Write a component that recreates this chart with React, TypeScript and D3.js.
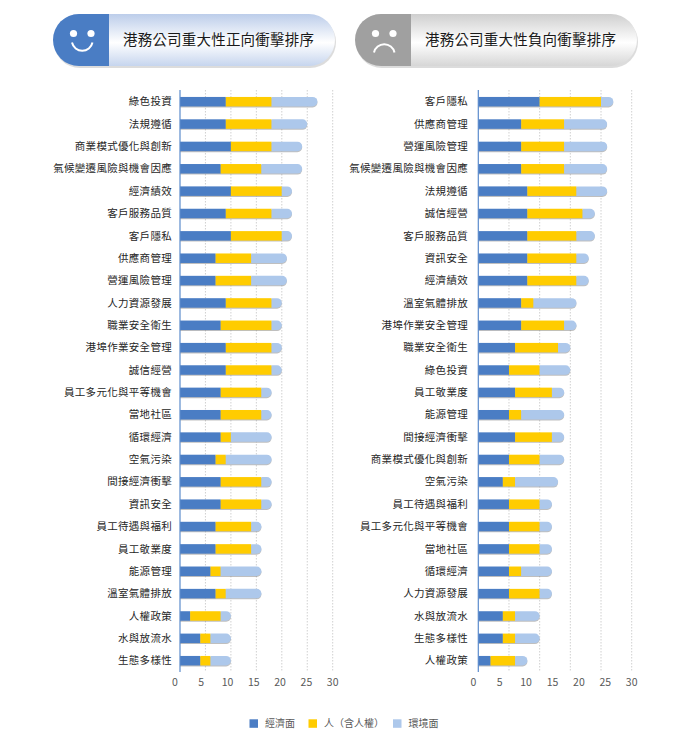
import React from 'react';
import * as d3 from 'd3';

// 正向衝擊（左）
const posCategories = [
  '綠色投資', '法規遵循', '商業模式優化與創新', '氣候變遷風險與機會因應', '經濟績效',
  '客戶服務品質', '客戶隱私', '供應商管理', '營運風險管理', '人力資源發展',
  '職業安全衛生', '港埠作業安全管理', '誠信經營', '員工多元化與平等機會', '當地社區',
  '循環經濟', '空氣污染', '間接經濟衝擊', '資訊安全', '員工待遇與福利',
  '員工敬業度', '能源管理', '溫室氣體排放', '人權政策', '水與放流水', '生態多樣性',
];
const posEcon = [9, 9, 10, 8, 10, 9, 10, 7, 7, 9, 8, 9, 9, 8, 8, 8, 7, 8, 8, 7, 7, 6, 7, 2, 4, 4];
const posPeople = [9, 9, 8, 8, 10, 9, 10, 7, 7, 9, 10, 9, 9, 8, 8, 2, 2, 8, 8, 7, 7, 2, 2, 6, 2, 2];
const posEnv = [9, 7, 6, 8, 2, 4, 2, 7, 7, 2, 2, 2, 2, 2, 2, 8, 9, 2, 2, 2, 2, 8, 7, 2, 4, 4];

// 負向衝擊（右）
const negCategories = [
  '客戶隱私', '供應商管理', '營運風險管理', '氣候變遷風險與機會因應', '法規遵循',
  '誠信經營', '客戶服務品質', '資訊安全', '經濟績效', '溫室氣體排放',
  '港埠作業安全管理', '職業安全衛生', '綠色投資', '員工敬業度', '能源管理',
  '間接經濟衝擊', '商業模式優化與創新', '空氣污染', '員工待遇與福利', '員工多元化與平等機會',
  '當地社區', '循環經濟', '人力資源發展', '水與放流水', '生態多樣性', '人權政策',
];
const negEcon = [10, 7, 7, 7, 8, 8, 8, 8, 8, 7, 7, 6, 5, 6, 5, 6, 5, 4, 5, 5, 5, 5, 5, 4, 4, 2];
const negPeople = [10, 7, 7, 7, 8, 9, 8, 8, 8, 2, 7, 7, 5, 6, 2, 6, 5, 2, 5, 5, 5, 2, 5, 2, 2, 4];
const negEnv = [2, 7, 7, 7, 5, 2, 3, 2, 2, 7, 2, 2, 5, 2, 7, 2, 4, 7, 2, 2, 2, 5, 2, 4, 4, 2];

const tickValues = [0, 5, 10, 15, 20, 25, 30];
const seriesNames = ['經濟面', '人（含人權）', '環境面'];
const seriesColors = ['#4a7dc4', '#ffcc00', '#adc8eb'];

const FONT = '"Noto Sans CJK TC", "Noto Sans", sans-serif';

interface PanelProps {
  categories: string[];
  econ: number[];
  people: number[];
  env: number[];
  axisX: number;
  maxDomain: number;
  endX: number;
  labelX: number;
}

const Panel: React.FC<PanelProps> = ({ categories, econ, people, env, axisX, maxDomain, endX, labelX }) => {
  const x = d3.scaleLinear().domain([0, maxDomain]).range([axisX, endX]);
  // the tick labels in the source sit on their own 0–30 ruler
  const xLabel = d3.scaleLinear().domain([0, 30]).range([axisX - 5, endX]);
  const y = d3.scalePoint<string>().domain(categories).range([101.7, 660.7]);
  const barH = 9.5;
  const gridTicks = d3.range(5, maxDomain + 1, 5);

  const roundedEnd = (x0: number, x1: number, yTop: number) => {
    const r = barH / 2;
    return `M${x0},${yTop}H${x1 - r}A${r},${r} 0 0 1 ${x1 - r},${yTop + barH}H${x0}Z`;
  };

  return (
    <g>
      {gridTicks.map((t) => (
        <line key={t} x1={x(t)} x2={x(t)} y1={90} y2={671}
          stroke="#c4c4c4" strokeWidth={0.8} strokeDasharray="1.5,1.5" />
      ))}
      {categories.map((c, i) => {
        const yc = y(c) ?? 0;
        const yTop = yc - barH / 2;
        const s0 = econ[i];
        const s1 = s0 + people[i];
        const s2 = s1 + env[i];
        return (
          <g key={c}>
            <path d={roundedEnd(x(0), x(s2), yTop + 1)} fill="#8a8a8a" opacity={0.55} />
            <rect x={x(0)} y={yTop} width={x(s0) - x(0)} height={barH} fill={seriesColors[0]} />
            <rect x={x(s0)} y={yTop} width={x(s1) - x(s0)} height={barH} fill={seriesColors[1]} />
            <path d={roundedEnd(x(s1), x(s2), yTop)} fill={seriesColors[2]} />
            <text x={labelX} y={yc} dy="0.35em" textAnchor="end" fontSize={10.5}
              letterSpacing={0.3} fill="#262626" fontFamily={FONT}>{c}</text>
          </g>
        );
      })}
      <line x1={axisX} x2={axisX} y1={90} y2={672} stroke="#5b8bcc" strokeWidth={1.2} />
      {tickValues.map((t) => (
        <text key={t} x={xLabel(t)} y={682.5} dy="0.35em" textAnchor="middle" fontSize={10.5}
          fill="#595959" fontFamily={FONT}>{t}</text>
      ))}
    </g>
  );
};

interface HeaderProps {
  x0: number;
  x1: number;
  split: number;
  title: string;
  dark: string;
  gradId: string;
  happy: boolean;
}

const Header: React.FC<HeaderProps> = ({ x0, x1, split, title, dark, gradId, happy }) => {
  const top = 14;
  const h = 52;
  const r = h / 2;
  const ex = x0 + 20.5;
  const mouth = happy
    ? `M${ex - 1.5},${top + 28.5} A10.5,10.5 0 0 0 ${ex + 19},${top + 28.5}`
    : `M${ex - 1.5},${top + 38.5} A10.5,10.5 0 0 1 ${ex + 19},${top + 38.5}`;
  return (
    <g>
      <rect x={x0 + 1} y={top + 2} width={x1 - x0} height={h} rx={r} fill="#9a9a9a" opacity={0.35} />
      <rect x={x0} y={top} width={x1 - x0} height={h} rx={r} fill={`url(#${gradId})`} />
      <path d={`M${split},${top}H${x0 + r}A${r},${r} 0 0 0 ${x0 + r},${top + h}H${split}Z`} fill={dark} />
      <circle cx={ex} cy={top + 19.5} r={3.6} fill="#fff" />
      <circle cx={ex + 17.5} cy={top + 19.5} r={3.6} fill="#fff" />
      <path d={mouth} fill="none" stroke="#fff" strokeWidth={2} />
      <text x={split + 14} y={top + h / 2} dy="0.36em" fontSize={14.5} fill="#1a1a1a"
        fontFamily={FONT} letterSpacing={0.2}>{title}</text>
    </g>
  );
};

export default function App() {
  const legendX = [249.5, 308.5, 393];
  return (
    <div style={{ position: 'absolute', left: 0, top: 0, background: '#fff' }}>
      <svg width={695} height={740} style={{ display: 'block' }}>
        <defs>
          <linearGradient id="gPos" x1="0" y1="0" x2="0" y2="1">
            <stop offset="0%" stopColor="#bccdea" />
            <stop offset="55%" stopColor="#ffffff" />
            <stop offset="100%" stopColor="#c6d5ee" />
          </linearGradient>
          <linearGradient id="gNeg" x1="0" y1="0" x2="0" y2="1">
            <stop offset="0%" stopColor="#cfcfcf" />
            <stop offset="55%" stopColor="#ffffff" />
            <stop offset="100%" stopColor="#d6d6d6" />
          </linearGradient>
        </defs>
        <rect width={695} height={740} fill="#fff" />
        <Header x0={53} x1={335} split={109} title="港務公司重大性正向衝擊排序"
          dark="#4a7dc4" gradId="gPos" happy />
        <Header x0={355} x1={637} split={411} title="港務公司重大性負向衝擊排序"
          dark="#a0a0a0" gradId="gNeg" happy={false} />
        <Panel categories={posCategories} econ={posEcon} people={posPeople} env={posEnv}
          axisX={180} maxDomain={30} endX={332.7} labelX={172} />
        <Panel categories={negCategories} econ={negEcon} people={negPeople} env={negEnv}
          axisX={478.3} maxDomain={25} endX={631.7} labelX={468} />
        {seriesNames.map((n, i) => (
          <g key={n}>
            <rect x={legendX[i]} y={719.3} width={8.5} height={8.5} fill={seriesColors[i]} />
            <text x={legendX[i] + 15.5} y={723.5} dy="0.35em" fontSize={10} fill="#595959"
              fontFamily={FONT}>{n}</text>
          </g>
        ))}
      </svg>
    </div>
  );
}
